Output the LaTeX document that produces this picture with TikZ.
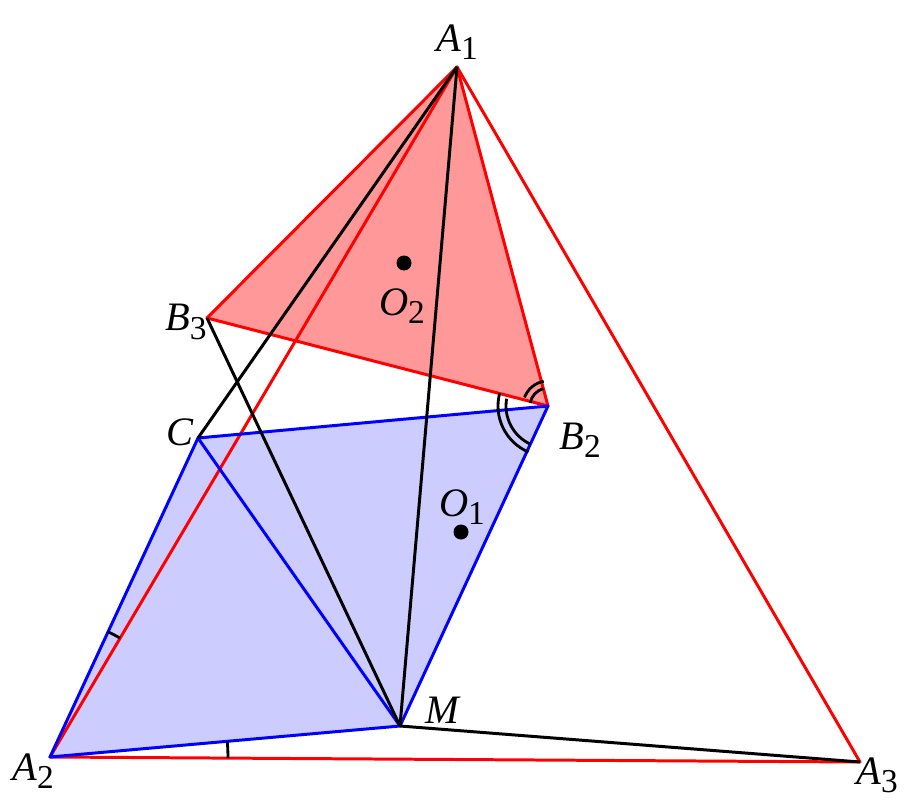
\documentclass[tikz,border=0pt]{standalone}
\usepackage{fontspec}
\setmainfont{Liberation Serif}
\usepackage{tikz}
\usetikzlibrary{angles}

\newcommand{\vlab}[2]{\textit{#1}\raisebox{-0.45ex}{\fontsize{19}{22}\selectfont #2}}

\tikzset{
  redline/.style={red,line width=1.7pt,line join=round},
  blueline/.style={blue,line width=1.7pt,line join=round},
  blackline/.style={black,line width=1.7pt},
  anglemark/.style={draw,black,line width=1.6pt},
  lbl/.style={font=\fontsize{23}{27}\selectfont,inner sep=0pt}
}

\begin{document}
\begin{tikzpicture}[x=0.02cm,y=-0.02cm]
   \useasboundingbox (0,0) rectangle (907,805);
   \coordinate (A1) at (457,67);
   \coordinate (A2) at (50,757);
   \coordinate (A3) at (860,762);
   \coordinate (M) at (400,726);
   \coordinate (C) at (198,438);
   \coordinate (B2) at (548,406);
   \coordinate (B3) at (207,318);
   \coordinate (O1) at (461,532);
   \coordinate (O2) at (404,263);

   \fill[red,opacity=0.4] (A1) -- (B3) -- (B2) -- cycle;
   \fill[blue,opacity=0.2] (A2) -- (C) -- (B2) -- (M) -- cycle;

   \draw[redline] (A1) -- (A2) -- (A3) -- cycle;
   \draw[redline] (A1) -- (B3) -- (B2) -- cycle;
   \draw[blueline] (A2) -- (C) -- (B2) -- (M) -- cycle;
   \draw[blueline] (C) -- (M);
   \draw[blackline] (A1) -- (C);
   \draw[blackline] (A1) -- (M);
   \draw[blackline] (B3) -- (M);
   \draw[blackline] (M) -- (A3);

   \draw[anglemark] (B2) ++(165:1cm) arc[start angle=165,end angle=247,radius=1cm];
   \draw[anglemark] (B2) ++(170:0.84cm) arc[start angle=170,end angle=245,radius=0.84cm];
   \draw[anglemark] (B2) ++(100:0.5cm) arc[start angle=100,end angle=160,radius=0.5cm];
   \draw[anglemark] (B2) ++(105:0.36cm) arc[start angle=105,end angle=170,radius=0.36cm];
   \pic[anglemark,angle radius=2.76cm] {angle=A1--A2--C};
   \pic[anglemark,angle radius=3.56cm] {angle=A3--A2--M};

   \fill (O1) circle (0.15cm);
   \fill (O2) circle (0.15cm);

   \node[lbl] (lA1) at (457,42) {\vlab{A}{1}};
   \node[lbl] (lA2) at (33,771) {\vlab{A}{2}};
   \node[lbl] (lA3) at (877,775) {\vlab{A}{3}};
   \node[lbl] (lM) at (443,710) {\textit{M}};
   \node[lbl] (lC) at (180,432) {\textit{C}};
   \node[lbl] (lB2) at (580,440) {\vlab{B}{2}};
   \node[lbl] (lB3) at (186,322) {\vlab{B}{3}};
   \node[lbl] (lO1) at (462,507) {\vlab{O}{1}};
   \node[lbl] (lO2) at (402,306) {\vlab{O}{2}};
\end{tikzpicture}
\end{document}
